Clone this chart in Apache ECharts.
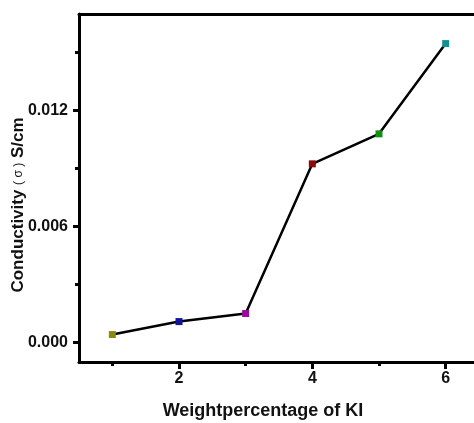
<!DOCTYPE html>
<html>
<head>
<meta charset="utf-8">
<script src="https://cdn.jsdelivr.net/npm/echarts@6/dist/echarts.min.js"></script>
<style>
  html, body { margin: 0; padding: 0; background: #fff; }
  #chart { width: 474px; height: 423px; }
</style>
</head>
<body>
<div id="chart"></div>
<script>
// data
const weights = [1, 2, 3, 4, 5, 6];
const conductivity = [0.00042, 0.00109, 0.00151, 0.00925, 0.0108, 0.01547];
const pointColors = ['#8a8a12', '#12129a', '#990a99', '#8b0a0a', '#129012', '#129090'];
const xMajorTicks = [2, 4, 6];
const xMinorTicks = [1, 3, 5];
const yMajorTicks = [0, 0.006, 0.012];
const yMinorTicks = [0.003, 0.009, 0.015];

const font = 'Liberation Sans, Arial, sans-serif';
let chart = echarts.init(document.getElementById('chart'));

let pts = weights.map(function (w, i) {
  return { value: [w, conductivity[i]], itemStyle: { color: pointColors[i] } };
});

let option = {
  backgroundColor: '#fff',
  animation: false,
  grid: { left: 79, right: -5, top: 14, bottom: 61, outerBoundsMode: 'none', containLabel: false },
  xAxis: [
    {
      type: 'value', min: 0.5, max: 6.5, position: 'bottom',
      axisLine: { onZero: false, lineStyle: { color: '#000', width: 3 } },
      axisTick: { customValues: xMajorTicks, length: 7, lineStyle: { color: '#000', width: 3 } },
      axisLabel: {
        customValues: xMajorTicks, margin: 9,
        color: '#111', fontFamily: font, fontWeight: 'bold', fontSize: 16
      },
      splitLine: { show: false },
      name: 'Weightpercentage of KI', nameLocation: 'middle', nameGap: 40,
      nameTextStyle: { color: '#111', fontFamily: font, fontWeight: 'bold', fontSize: 18, padding: [0, 32, 0, 0] }
    },
    {
      type: 'value', min: 0.5, max: 6.5, position: 'bottom',
      axisLine: { show: false, onZero: false },
      axisTick: { customValues: xMinorTicks, length: 4, lineStyle: { color: '#000', width: 3 } },
      axisLabel: { show: false },
      splitLine: { show: false }
    },
    {
      type: 'value', min: 0.5, max: 6.5, position: 'top',
      axisLine: { onZero: false, lineStyle: { color: '#000', width: 3 } },
      axisTick: { show: false }, axisLabel: { show: false }, splitLine: { show: false }
    }
  ],
  yAxis: [
    {
      type: 'value', min: -0.001, max: 0.017, position: 'left',
      axisLine: { onZero: false, lineStyle: { color: '#000', width: 3 } },
      axisTick: { customValues: yMajorTicks, length: 6, lineStyle: { color: '#000', width: 3 } },
      axisLabel: {
        customValues: yMajorTicks, margin: 11,
        color: '#111', fontFamily: font, fontWeight: 'bold', fontSize: 16,
        formatter: function (v) { return v.toFixed(3); }
      },
      splitLine: { show: false },
      name: 'Conductivity {s|( σ )} S/cm', nameLocation: 'middle', nameGap: 52,
      nameMoveOverlap: false,
      nameTextStyle: {
        color: '#111', fontFamily: font, fontWeight: 'bold', fontSize: 17, padding: [0, 34, 0, 0],
        rich: { s: { fontFamily: font, fontWeight: 'normal', fontSize: 12, color: '#111' } }
      }
    },
    {
      type: 'value', min: -0.001, max: 0.017, position: 'left',
      axisLine: { show: false, onZero: false },
      axisTick: { customValues: yMinorTicks, length: 4, lineStyle: { color: '#000', width: 3 } },
      axisLabel: { show: false },
      splitLine: { show: false }
    }
  ],
  series: [
    {
      type: 'line', data: pts,
      symbol: 'rect', symbolSize: 7,
      lineStyle: { color: '#000', width: 2.5 },
      z: 3
    }
  ]
};
chart.setOption(option);
</script>
</body>
</html>
